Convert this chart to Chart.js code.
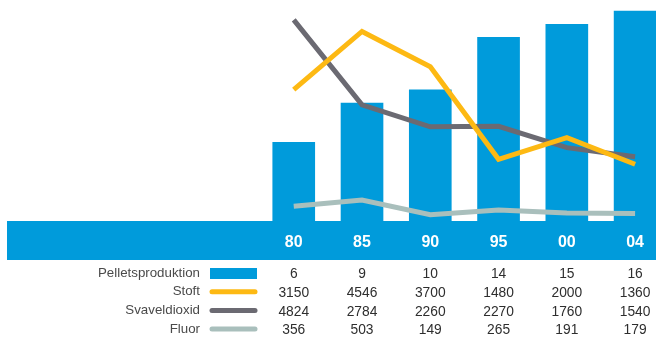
<!DOCTYPE html>
<html>
<head>
<meta charset="utf-8">
<script src="https://cdn.jsdelivr.net/npm/chart.js@4"></script>
<style>
    html, body { margin: 0; padding: 0; background: #fff; }
    canvas { display: block; }
</style>
</head>
<body>
<canvas id="chart" width="656" height="337"></canvas>
<script>
// data
const years = ['80', '85', '90', '95', '00', '04'];
const pellets = [6, 9, 10, 14, 15, 16];
const stoft = [3150, 4546, 3700, 1480, 2000, 1360];
const svavel = [4824, 2784, 2260, 2270, 1760, 1540];
const fluor = [356, 503, 149, 265, 191, 179];

const BLUE = '#009bdb';
const YELLOW = '#fdb913';
const DARK = '#6b6a72';
const LIGHT = '#a9bfbc';

const rows = [
    { label: 'Pelletsproduktion', values: pellets, color: BLUE, bar: true },
    { label: 'Stoft', values: stoft, color: YELLOW },
    { label: 'Svaveldioxid', values: svavel, color: DARK },
    { label: 'Fluor', values: fluor, color: LIGHT }
];

function points(arr) {
    return arr.map((v, i) => ({ x: i, y: v }));
}

// blue band behind the year labels + table under it
const bandAndTable = {
    id: 'bandAndTable',
    beforeDraw(chart) {
        const ctx = chart.ctx;
        const a = chart.chartArea;
        const xs = chart.scales.x;
        ctx.save();
        ctx.fillStyle = BLUE;
        ctx.fillRect(a.left, a.bottom, chart.width - a.left, xs.bottom - a.bottom);
        ctx.restore();
    },
    afterDraw(chart) {
        const ctx = chart.ctx;
        const xs = chart.scales.x;
        ctx.save();
        ctx.textBaseline = 'middle';
        rows.forEach((r, k) => {
            const y = 273 + k * 18.7;
            ctx.font = '13.3px "Liberation Sans", Arial, sans-serif';
            ctx.fillStyle = '#4a4a4a';
            ctx.textAlign = 'right';
            ctx.fillText(r.label, 200, y);
            if (r.bar) {
                ctx.fillStyle = r.color;
                ctx.fillRect(210, y - 5, 47, 11);
            } else {
                ctx.strokeStyle = r.color;
                ctx.lineWidth = 5;
                ctx.lineCap = 'round';
                ctx.beginPath();
                ctx.moveTo(212, y);
                ctx.lineTo(255, y);
                ctx.stroke();
            }
            ctx.font = '13.8px "Liberation Sans", Arial, sans-serif';
            ctx.fillStyle = '#2e2e2e';
            ctx.textAlign = 'center';
            r.values.forEach((v, i) => {
                ctx.fillText(String(v), xs.getPixelForValue(i), y + 1.5);
            });
        });
        ctx.restore();
    }
};

const lineStyle = {
    type: 'line',
    yAxisID: 'y2',
    borderWidth: 5,
    pointRadius: 0,
    tension: 0,
    borderCapStyle: 'butt',
    borderJoinStyle: 'miter',
    order: 1
};

new Chart(document.getElementById('chart'), {
    type: 'bar',
    data: {
        datasets: [
            { ...lineStyle, label: 'Stoft', data: points(stoft), borderColor: YELLOW, order: 0 },
            { ...lineStyle, label: 'Svaveldioxid', data: points(svavel), borderColor: DARK },
            { ...lineStyle, label: 'Fluor', data: points(fluor), borderColor: LIGHT },
            {
                type: 'bar',
                label: 'Pelletsproduktion',
                data: points(pellets),
                backgroundColor: BLUE,
                barThickness: 42,
                clip: false,
                yAxisID: 'y',
                order: 3
            }
        ]
    },
    options: {
        responsive: false,
        animation: false,
        devicePixelRatio: 1,
        layout: { autoPadding: false, padding: { left: 7, right: 0, top: 0, bottom: 77 } },
        plugins: { legend: { display: false }, tooltip: { enabled: false } },
        scales: {
            x: {
                type: 'linear',
                min: -4.2,
                max: 5.233,
                offset: false,
                grid: { display: false, drawTicks: false, offset: false },
                border: { display: false },
                afterBuildTicks(scale) {
                    scale.ticks = years.map((_, i) => ({ value: i }));
                },
                afterFit(scale) { scale.height = 39; },
                ticks: {
                    color: '#ffffff',
                    padding: 12,
                    maxRotation: 0,
                    autoSkip: false,
                    font: { family: '"Liberation Sans", Arial, sans-serif', size: 16, weight: 'bold' },
                    callback: (v) => years[v]
                }
            },
            y: { display: false, min: 0, max: 16.85 },
            y2: { display: false, min: 0, max: 5300 }
        }
    },
    plugins: [bandAndTable]
});
</script>
</body>
</html>
